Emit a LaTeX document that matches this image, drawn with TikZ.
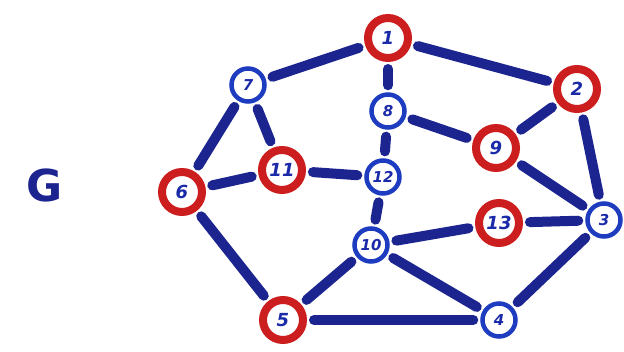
\documentclass[tikz,border=0pt]{standalone}
\usepackage{fontspec}
\setmainfont{DejaVu Sans}
\definecolor{edgeblue}{HTML}{1C2490}
\definecolor{ringred}{HTML}{CC1E1E}
\definecolor{ringblue}{HTML}{1E3CC0}
\definecolor{digit}{HTML}{1A2AA8}
\begin{document}
\begin{tikzpicture}[x=1pt,y=-1pt,
  rednode/.style={circle,draw=ringred,line width=8pt,fill=white,minimum size=40pt,inner sep=0pt,
    font=\fontsize{18}{18}\selectfont\bfseries\itshape,text=digit,outer sep=4pt},
  bluenode/.style={circle,draw=ringblue,line width=4.5pt,fill=white,minimum size=33pt,inner sep=0pt,
    font=\fontsize{15}{15}\selectfont\bfseries\itshape,text=digit,outer sep=2.25pt},
  edge/.style={draw=edgeblue,line width=10pt,line cap=round,shorten <=7pt,shorten >=7pt}]
\useasboundingbox (0,0) rectangle (624,352);
\node[font=\fontsize{44}{44}\selectfont\bfseries,text=edgeblue] (G) at (45,185) {G};
\node[rednode] (n1) at (388,38) {1};
\node[rednode] (n2) at (577,89) {2};
\node[bluenode] (n7) at (248,85) {7};
\node[bluenode] (n8) at (388,111) {8};
\node[rednode] (n9) at (496,148) {9};
\node[rednode] (n11) at (282,170) {11};
\node[bluenode] (n12) at (383,177) {12};
\node[rednode] (n6) at (182,192) {6};
\node[rednode] (n13) at (499,223) {13};
\node[bluenode] (n3) at (604,220) {3};
\node[bluenode] (n10) at (371,245) {10};
\node[rednode] (n5) at (283,320) {5};
\node[bluenode] (n4) at (499,320) {4};
\foreach \a/\b in {n1/n7,n1/n8,n1/n2,n7/n6,n7/n11,n6/n11,n11/n12,n8/n12,n8/n9,n9/n2,n9/n3,n2/n3,n12/n10,n10/n13,n13/n3,n10/n4,n3/n4,n5/n4,n6/n5,n5/n10}
  \draw[edge] (\a) -- (\b);
\end{tikzpicture}
\end{document}
